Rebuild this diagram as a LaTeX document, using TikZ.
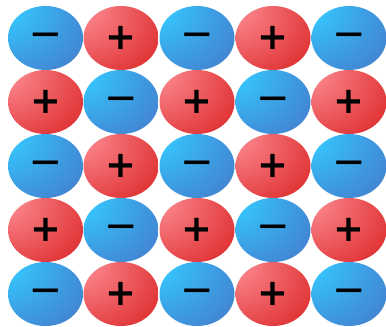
\documentclass[tikz,border=0pt]{standalone}
\usepackage{fontspec}
\newfontfamily\signfont{DejaVu Sans}
\definecolor{anhi}{RGB}{52,202,255}
\definecolor{anlo}{RGB}{72,104,192}
\definecolor{cathi}{RGB}{252,138,144}
\definecolor{catlo}{RGB}{210,8,8}
\usetikzlibrary{shapes.geometric}
\pgfdeclareradialshading[anhi,anlo]{anionball}{\pgfpoint{-32bp}{26bp}}{%
  color(0bp)=(anhi); color(6bp)=(anhi); color(68bp)=(anlo); color(120bp)=(anlo)}
\pgfdeclareradialshading[cathi,catlo]{cationball}{\pgfpoint{-32bp}{26bp}}{%
  color(0bp)=(cathi); color(6bp)=(cathi); color(72bp)=(catlo); color(120bp)=(catlo)}

\begin{document}
\begin{tikzpicture}[
    ion/.style={ellipse, minimum width=1.5cm, minimum height=1.28cm, inner sep=0pt},
    anion/.style={ion, shading=anionball, font=\signfont\bfseries\fontsize{16}{16}\selectfont},
    cation/.style={ion, shading=cationball, font=\signfont\bfseries\fontsize{21}{21}\selectfont}
  ]
    \useasboundingbox (0,0) rectangle (7.72,6.52);

    % Row 1
    \node[anion]  (a11) at (0.91,5.76) {—};
    \node[cation] (a12) at (2.42,5.76) {+};
    \node[anion]  (a13) at (3.94,5.76) {—};
    \node[cation] (a14) at (5.46,5.76) {+};
    \node[anion]  (a15) at (6.98,5.76) {—};

    % Row 2
    \node[cation] (a21) at (0.91,4.48) {+};
    \node[anion]  (a22) at (2.42,4.48) {—};
    \node[cation] (a23) at (3.94,4.48) {+};
    \node[anion]  (a24) at (5.46,4.48) {—};
    \node[cation] (a25) at (6.98,4.48) {+};

    % Row 3
    \node[anion]  (a31) at (0.91,3.20) {—};
    \node[cation] (a32) at (2.42,3.20) {+};
    \node[anion]  (a33) at (3.94,3.20) {—};
    \node[cation] (a34) at (5.46,3.20) {+};
    \node[anion]  (a35) at (6.98,3.20) {—};

    % Row 4
    \node[cation] (a41) at (0.91,1.92) {+};
    \node[anion]  (a42) at (2.42,1.92) {—};
    \node[cation] (a43) at (3.94,1.92) {+};
    \node[anion]  (a44) at (5.46,1.92) {—};
    \node[cation] (a45) at (6.98,1.92) {+};

    % Row 5
    \node[anion]  (a51) at (0.91,0.64) {—};
    \node[cation] (a52) at (2.42,0.64) {+};
    \node[anion]  (a53) at (3.94,0.64) {—};
    \node[cation] (a54) at (5.46,0.64) {+};
    \node[anion]  (a55) at (6.98,0.64) {—};
  \end{tikzpicture}
\end{document}
